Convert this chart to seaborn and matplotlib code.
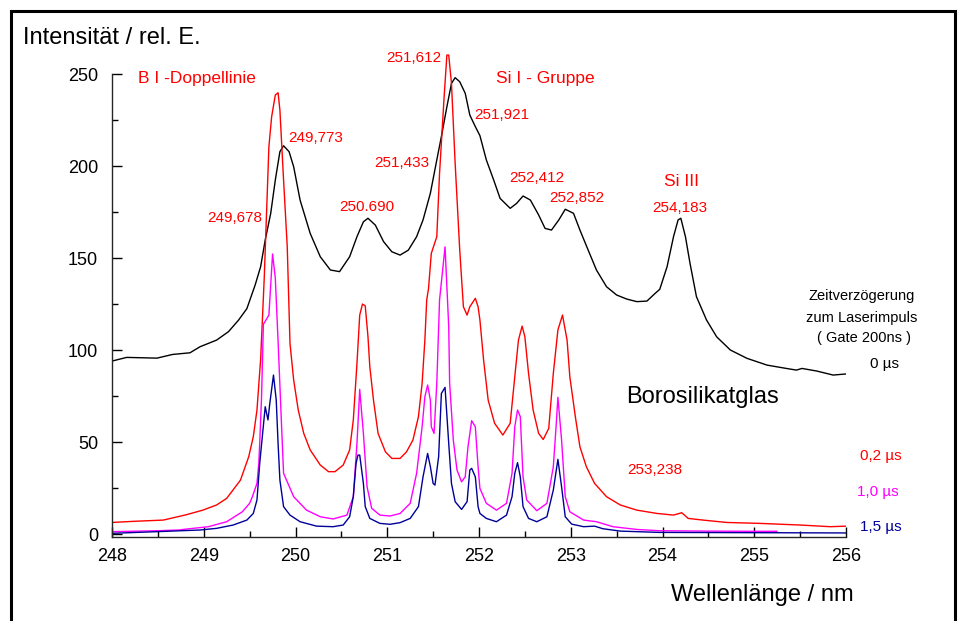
import numpy as np
import pandas as pd
import matplotlib
matplotlib.use("Agg")
import matplotlib.pyplot as plt
from matplotlib.patches import Rectangle
from matplotlib.ticker import MultipleLocator
import seaborn as sns

# spectra (wavelength nm, intensity rel. units)
wl_0us = [248.00, 248.16, 248.49, 248.66, 248.85, 248.96, 249.14, 249.27, 249.38, 249.47,
          249.56, 249.62, 249.67, 249.73, 249.78, 249.83, 249.87, 249.93, 249.98, 250.05,
          250.16, 250.27, 250.38, 250.48, 250.59, 250.67, 250.74, 250.79, 250.87, 250.96,
          251.05, 251.14, 251.23, 251.32, 251.39, 251.47, 251.54, 251.59, 251.65, 251.70,
          251.74, 251.79, 251.85, 251.90, 251.96, 252.01, 252.08, 252.16, 252.23, 252.34,
          252.41, 252.48, 252.56, 252.65, 252.72, 252.79, 252.87, 252.94, 253.03, 253.10,
          253.19, 253.28, 253.39, 253.50, 253.61, 253.72, 253.83, 253.92, 253.97, 254.05,
          254.12, 254.17, 254.20, 254.25, 254.30, 254.37, 254.48, 254.59, 254.74, 254.92,
          255.14, 255.35, 255.46, 255.52, 255.68, 255.86, 256.00]
int_0us = [94.0, 96.0, 95.6, 97.6, 98.5, 101.8, 105.4, 110.0, 116.3, 122.5,
           135.3, 145.3, 159.8, 174.3, 192.4, 207.8, 211.0, 207.8, 199.6, 181.5,
           163.4, 150.7, 143.5, 142.6, 150.7, 161.6, 169.7, 171.6, 167.9, 158.9,
           153.4, 151.6, 154.3, 161.6, 170.7, 185.2, 203.3, 216.0, 232.2, 244.9,
           248.0, 245.8, 239.5, 227.7, 221.4, 216.5, 203.3, 192.4, 182.4, 177.0,
           179.7, 183.7, 181.5, 173.4, 166.1, 165.2, 170.7, 176.5, 174.3, 165.2,
           154.3, 143.5, 134.4, 129.9, 127.7, 126.3, 126.6, 130.8, 133.0, 145.3,
           161.6, 170.7, 171.6, 161.6, 147.1, 129.0, 116.3, 107.2, 100.0, 95.5,
           91.8, 90.0, 89.1, 90.0, 88.6, 86.4, 87.0]

wl_02us = [248.00, 248.23, 248.56, 248.81, 248.99, 249.14, 249.25, 249.40, 249.49, 249.54,
           249.58, 249.62, 249.66, 249.71, 249.74, 249.78, 249.81, 249.83, 249.87, 249.91,
           249.94, 249.98, 250.03, 250.09, 250.16, 250.27, 250.36, 250.43, 250.52, 250.59,
           250.63, 250.67, 250.70, 250.73, 250.76, 250.79, 250.81, 250.85, 250.90, 250.98,
           251.05, 251.14, 251.21, 251.28, 251.34, 251.38, 251.41, 251.43, 251.45, 251.48,
           251.54, 251.57, 251.62, 251.65, 251.67, 251.70, 251.74, 251.79, 251.83, 251.87,
           251.90, 251.96, 251.99, 252.01, 252.05, 252.10, 252.17, 252.26, 252.34, 252.39,
           252.43, 252.47, 252.50, 252.54, 252.59, 252.65, 252.70, 252.76, 252.81, 252.86,
           252.91, 252.96, 252.99, 253.05, 253.10, 253.17, 253.26, 253.39, 253.54, 253.72,
           253.94, 254.12, 254.21, 254.28, 254.44, 254.70, 255.06, 255.50, 255.83, 256.00]
int_02us = [6.3, 6.9, 7.6, 10.5, 13.0, 15.8, 19.4, 29.3, 42.0, 52.9,
            67.4, 95.0, 140.0, 210.5, 226.8, 238.6, 239.8, 230.4, 192.4, 156.1,
            103.6, 83.7, 67.4, 54.7, 45.7, 37.5, 33.9, 33.9, 37.5, 45.7,
            62.0, 92.8, 119.0, 125.0, 124.0, 107.2, 90.9, 72.8, 54.7, 44.7,
            41.1, 41.1, 44.7, 51.1, 63.8, 81.9, 105.4, 127.2, 133.5, 152.5,
            161.6, 196.0, 237.7, 260.3, 260.3, 244.9, 201.5, 154.3, 123.5, 119.0,
            123.5, 128.1, 123.5, 116.3, 94.6, 72.8, 60.2, 53.8, 60.2, 85.5,
            105.4, 113.0, 107.2, 87.3, 67.4, 54.7, 51.4, 57.4, 87.3, 110.9,
            119.0, 105.4, 85.5, 63.8, 47.4, 36.6, 27.5, 20.3, 15.8, 13.0,
            11.2, 10.3, 11.6, 8.5, 7.6, 6.3, 5.8, 4.9, 4.0, 4.3]

wl_10us = [248.00, 248.49, 248.73, 248.81, 249.05, 249.25, 249.42, 249.50, 249.53, 249.58,
           249.60, 249.61, 249.63, 249.65, 249.71, 249.75, 249.78, 249.81, 249.85, 249.87,
           249.98, 250.12, 250.27, 250.41, 250.56, 250.63, 250.67, 250.70, 250.74, 250.78,
           250.83, 250.92, 251.03, 251.14, 251.25, 251.32, 251.38, 251.41, 251.44, 251.47,
           251.48, 251.51, 251.54, 251.57, 251.63, 251.67, 251.68, 251.72, 251.76, 251.81,
           251.85, 251.88, 251.92, 251.96, 251.99, 252.01, 252.08, 252.19, 252.30, 252.36,
           252.39, 252.42, 252.45, 252.48, 252.52, 252.63, 252.74, 252.81, 252.84, 252.86,
           252.90, 252.94, 252.99, 253.14, 253.28, 253.46, 253.72, 253.97, 254.50, 255.00,
           255.25]
int_10us = [1.3, 1.8, 2.2, 2.7, 4.0, 6.7, 12.1, 16.7, 20.3, 27.5,
            38.4, 49.3, 74.6, 114.0, 119.0, 152.2, 139.0, 105.0, 56.5, 33.0,
            20.3, 13.0, 9.4, 8.2, 10.3, 20.3, 49.3, 78.6, 54.7, 25.7,
            14.0, 10.3, 9.8, 11.2, 16.7, 33.0, 58.3, 74.6, 81.0, 72.8,
            58.3, 54.7, 81.9, 127.2, 156.1, 112.7, 82.0, 51.1, 34.8, 28.4,
            31.1, 47.4, 61.6, 58.3, 36.6, 24.8, 16.7, 13.0, 16.7, 33.0,
            58.3, 67.4, 63.8, 31.1, 18.5, 12.7, 16.7, 36.6, 58.3, 74.3,
            51.1, 20.3, 12.1, 7.6, 6.7, 4.0, 2.5, 1.8, 1.6, 1.5,
            1.5]

wl_15us = [248.00, 248.49, 248.96, 249.14, 249.32, 249.47, 249.54, 249.58, 249.61, 249.67,
           249.70, 249.72, 249.76, 249.79, 249.81, 249.83, 249.87, 249.94, 250.05, 250.23,
           250.41, 250.52, 250.59, 250.63, 250.66, 250.68, 250.70, 250.74, 250.76, 250.81,
           250.92, 251.03, 251.14, 251.25, 251.34, 251.39, 251.44, 251.47, 251.50, 251.52,
           251.56, 251.59, 251.63, 251.67, 251.70, 251.74, 251.81, 251.87, 251.90, 251.92,
           251.96, 251.99, 252.01, 252.08, 252.19, 252.30, 252.36, 252.39, 252.42, 252.45,
           252.48, 252.54, 252.63, 252.74, 252.81, 252.86, 252.90, 252.94, 253.01, 253.14,
           253.26, 253.35, 253.54, 253.97, 256.00]
int_15us = [0.4, 1.3, 2.2, 3.1, 4.9, 7.6, 11.2, 18.5, 38.4, 69.2,
            62.0, 71.0, 86.4, 72.8, 49.3, 29.3, 14.9, 10.3, 6.7, 4.3,
            4.0, 4.9, 9.4, 20.3, 38.4, 42.9, 42.9, 27.5, 14.9, 8.5,
            5.8, 5.3, 6.2, 8.5, 14.9, 31.1, 43.8, 36.6, 27.5, 26.6,
            42.0, 76.4, 79.7, 49.3, 27.5, 17.6, 13.4, 17.6, 34.8, 35.7,
            31.1, 14.9, 11.2, 8.5, 6.7, 10.3, 20.3, 33.0, 38.8, 31.1,
            14.9, 8.5, 6.7, 9.4, 23.9, 40.6, 25.7, 9.4, 5.4, 4.0,
            4.3, 2.9, 1.6, 0.9, 0.6]

delays = ["0 µs", "0,2 µs", "1,0 µs", "1,5 µs"]
colors = ["black", "#ff0000", "#ff00ff", "#000099"]

df = pd.concat([
    pd.DataFrame({"wl": wl_0us, "I": int_0us, "delay": delays[0]}),
    pd.DataFrame({"wl": wl_02us, "I": int_02us, "delay": delays[1]}),
    pd.DataFrame({"wl": wl_10us, "I": int_10us, "delay": delays[2]}),
    pd.DataFrame({"wl": wl_15us, "I": int_15us, "delay": delays[3]}),
])

sns.set_style("ticks")
plt.rcParams['font.family'] = ['Liberation Sans', 'DejaVu Sans']

W, H = 961, 621
fig = plt.figure(figsize=(W / 100, H / 100), dpi=100)
ax = fig.add_axes([112 / W, 1 - 537 / H, (846 - 112) / W, (537 - 46.4) / H])

sns.lineplot(data=df, x="wl", y="I", hue="delay", palette=dict(zip(delays, colors)),
             estimator=None, sort=False, legend=False, lw=1.0, ax=ax)

ax.set_xlim(248, 256)
ax.set_ylim(-1.6, 265)
ax.set_xlabel("")
ax.set_ylabel("")
sns.despine(ax=ax)
ax.spines["left"].set_bounds(-1.6, 250)
ax.spines["left"].set_linewidth(1.0)
ax.spines["bottom"].set_linewidth(1.0)
ax.xaxis.set_major_locator(MultipleLocator(1))
ax.xaxis.set_minor_locator(MultipleLocator(0.5))
ax.yaxis.set_major_locator(MultipleLocator(50))
ax.yaxis.set_minor_locator(MultipleLocator(25))
ax.set_yticks([0, 50, 100, 150, 200, 250])
ax.tick_params(which="both", direction="in", colors="black", labelsize=13)
ax.tick_params(which="major", length=7, width=1.0)
ax.tick_params(which="minor", length=4, width=1.0)
ax.tick_params(axis="x", pad=8)
ax.tick_params(axis="y", pad=10)


def put(x, y, s, size=11, color="red", ha="left"):
    fig.text(x / W, 1 - y / H, s, fontsize=size, color=color, ha=ha, va="center")


# axis titles and headings
put(23, 38, "Intensität / rel. E.", size=17, color="black")
put(671, 595, "Wellenlänge / nm", size=17, color="black")
put(626, 397, "Borosilikatglas", size=17, color="black")

# line groups
put(138, 78, "B I -Doppellinie", size=12.5)
put(496, 78, "Si I - Gruppe", size=12.5)
put(681, 182, "Si III", size=12.5, ha="center")

# peak labels
put(207, 218, "249,678")
put(288, 138, "249,773")
put(339, 207, "250.690")
put(386, 58, "251,612")
put(374, 163, "251,433")
put(474, 115, "251,921")
put(509, 178, "252,412")
put(549, 198, "252,852")
put(652, 208, "254,183")
put(627, 470, "253,238")

# delay legend
put(862, 296, "Zeitverzögerung", size=10.5, color="black", ha="center")
put(862, 318, "zum Laserimpuls", size=10.5, color="black", ha="center")
put(864, 338, "( Gate 200ns )", size=10.5, color="black", ha="center")
put(899, 364, "0 µs", color="black", ha="right")
put(902, 456, "0,2 µs", color="#ff0000", ha="right")
put(899, 492, "1,0 µs", color="#ff00ff", ha="right")
put(902, 527, "1,5 µs", color="#000099", ha="right")

# outer frame
fig.add_artist(Rectangle((11 / W, -0.1), (955 - 11) / W, 1 - 11 / H + 0.1,
                         transform=fig.transFigure, fill=False, lw=2.2,
                         edgecolor="black", clip_on=False))

fig.savefig("out.png", dpi=100)
